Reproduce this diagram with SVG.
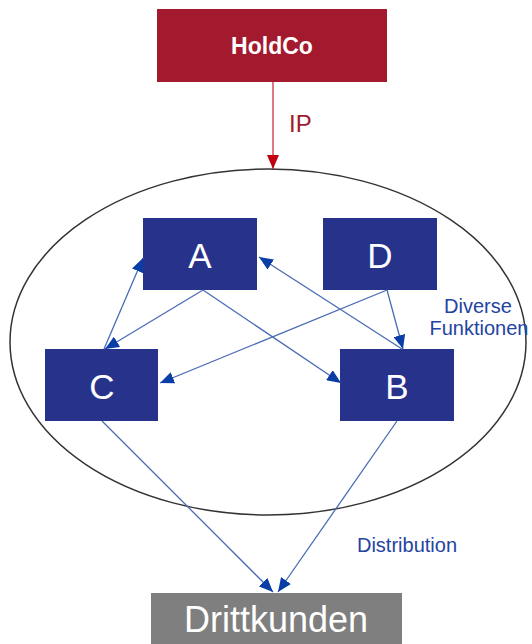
<svg xmlns="http://www.w3.org/2000/svg" width="532" height="644" viewBox="0 0 532 644">
<defs>
<style>
.box{fill:#27338a}
.lbl{font-family:"Liberation Sans",Arial,sans-serif;fill:#fff;text-anchor:middle}
.note{font-family:"Liberation Sans",Arial,sans-serif;fill:#2344a0;font-size:20px;text-anchor:middle}
.con{stroke:#4a6cb5;stroke-width:1.3;fill:none;marker-end:url(#ab)}
</style>
<marker id="ab" markerUnits="userSpaceOnUse" markerWidth="14" markerHeight="12" viewBox="0 0 14 12" refX="14" refY="6" orient="auto">
<path d="M0,0 L14,6 L0,12 Z" fill="#0a3ea6"/>
</marker>
<marker id="ar" markerUnits="userSpaceOnUse" markerWidth="14" markerHeight="12" viewBox="0 0 14 12" refX="14" refY="6" orient="auto">
<path d="M0,0 L14,6 L0,12 Z" fill="#c00010"/>
</marker>
</defs>
<rect width="532" height="644" fill="#fff"/>
<ellipse id="group" cx="268" cy="342" rx="258" ry="173" fill="none" stroke="#333" stroke-width="1.5"/>
<g id="holdco">
<rect x="157" y="9" width="230" height="73" fill="#a3192e"/>
<text class="lbl" x="272" y="54" font-size="23" font-weight="bold">HoldCo</text>
</g>
<g id="A"><rect class="box" x="143" y="218" width="114" height="72"/><text class="lbl" x="200" y="268" font-size="35">A</text></g>
<g id="D"><rect class="box" x="323" y="218" width="114" height="72"/><text class="lbl" x="380" y="268" font-size="35">D</text></g>
<g id="C"><rect class="box" x="45" y="349" width="113" height="72"/><text class="lbl" x="102" y="399" font-size="35">C</text></g>
<g id="B"><rect class="box" x="340" y="349" width="114" height="72"/><text class="lbl" x="397" y="399" font-size="35">B</text></g>
<g id="drittkunden">
<rect x="151" y="593" width="251" height="51" fill="#7f7f7f"/>
<text class="lbl" x="276" y="632" font-size="36">Drittkunden</text>
</g>
<g id="connectors">
<line x1="273" y1="82" x2="273" y2="169" stroke="#d03040" stroke-width="1.3" marker-end="url(#ar)"/>
<line class="con" x1="104" y1="349" x2="143" y2="258"/>
<line class="con" x1="203" y1="290" x2="105" y2="349"/>
<line class="con" x1="203" y1="290" x2="341" y2="383"/>
<line class="con" x1="387" y1="290" x2="160" y2="383"/>
<line class="con" x1="387" y1="290" x2="403" y2="349"/>
<line class="con" x1="402" y1="349" x2="259" y2="257"/>
<line class="con" x1="102" y1="421" x2="273" y2="592"/>
<line class="con" x1="397" y1="421" x2="278" y2="592"/>
</g>
<g id="labels">
<text x="289" y="132" font-family="Liberation Sans,Arial,sans-serif" font-size="24" fill="#a3192e">IP</text>
<text class="note" x="478" y="313">Diverse</text>
<text class="note" x="479" y="335">Funktionen</text>
<text class="note" x="407" y="552">Distribution</text>
</g>
</svg>
